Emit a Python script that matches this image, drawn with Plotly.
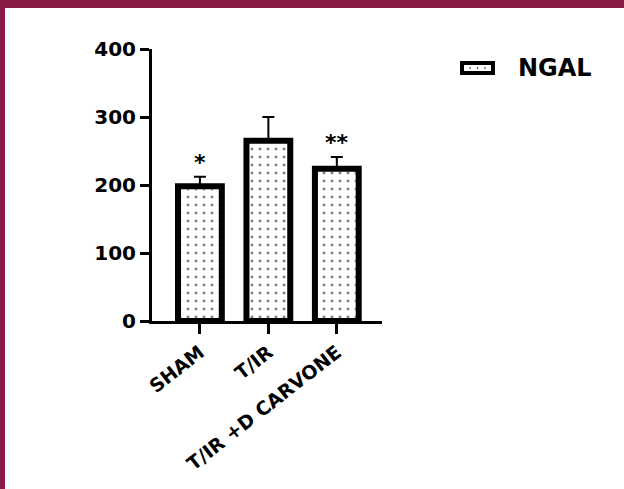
import plotly.graph_objects as go

categories = ["SHAM", "T/IR", "T/IR +D CARVONE"]
ngal_mean = [198, 265, 224]
ngal_err = [14, 35, 17]
sig_labels = ["*", "", "**"]
y_ticks = [0, 100, 200, 300, 400]

W, H = 624, 489
L, R, T, B = 152, 242, 49, 168
pw, ph = W - L - R, H - T - B

def px(x):
    return (x - L) / pw

def py(y):
    return (H - B - y) / ph

FONT = "DejaVu Sans"

fig = go.Figure()
fig.add_trace(go.Bar(
    x=categories, y=ngal_mean, name="NGAL", showlegend=False,
    width=0.64,
    marker=dict(color="white", line=dict(color="black", width=6),
                pattern=dict(shape=".", fgcolor="black", bgcolor="white", size=8, solidity=0.1)),
    error_y=dict(type="data", array=ngal_err, arrayminus=[0]*len(ngal_err),
                 symmetric=False, color="black", thickness=2, width=6),
))

annotations = []
for c, m, e, s in zip(categories, ngal_mean, ngal_err, sig_labels):
    if s:
        annotations.append(dict(x=c, y=m + e, text="<b>" + s + "</b>", showarrow=False, yanchor="bottom",
                                yshift=0, font=dict(family=FONT, size=22, color="black")))
annotations.append(dict(xref="paper", yref="paper", x=px(516), y=py(68), text="<b>NGAL</b>",
                        xanchor="left", yanchor="middle", showarrow=False,
                        font=dict(family=FONT, size=24, color="black")))

shapes = [
    dict(type="rect", xref="paper", yref="paper", x0=px(0), x1=px(W), y0=py(0), y1=py(8),
         fillcolor="#8A1A46", line=dict(width=0), layer="above"),
    dict(type="rect", xref="paper", yref="paper", x0=px(0), x1=px(5), y0=py(0), y1=py(H),
         fillcolor="#8A1A46", line=dict(width=0), layer="above"),
    dict(type="rect", xref="paper", yref="paper", x0=px(462), x1=px(493), y0=py(63), y1=py(73),
         fillcolor="white", line=dict(color="black", width=4)),
]
for dx in (470, 477.5, 485):
    shapes.append(dict(type="circle", xref="paper", yref="paper", x0=px(dx - 0.8), x1=px(dx + 0.8),
                       y0=py(67.2), y1=py(68.8), fillcolor="black", line=dict(width=0)))

fig.update_layout(
    width=W, height=H, margin=dict(l=L, r=R, t=T, b=B, autoexpand=False),
    plot_bgcolor="white", paper_bgcolor="white",
    xaxis=dict(range=[-0.7, 2.66], showline=True, linecolor="black", linewidth=3,
               ticks="outside", ticklen=10, tickwidth=3, tickcolor="black",
               tickangle=-38, showgrid=False, zeroline=False,
               tickvals=categories, ticktext=["<b>" + c + "</b>" for c in categories],
               tickfont=dict(family=FONT, size=19, color="black")),
    yaxis=dict(range=[0, 400], tickvals=y_ticks, ticktext=["<b>%d</b>" % v for v in y_ticks],
               showline=True, linecolor="black", linewidth=3, ticks="outside", ticklen=9,
               tickwidth=3, tickcolor="black", showgrid=False, zeroline=False,
               tickfont=dict(family=FONT, size=20, color="black")),
    annotations=annotations, shapes=shapes,
)
fig.write_html("out.html", config={"displayModeBar": False},
               post_script="document.body.style.margin='0';document.body.style.overflow='hidden';")
